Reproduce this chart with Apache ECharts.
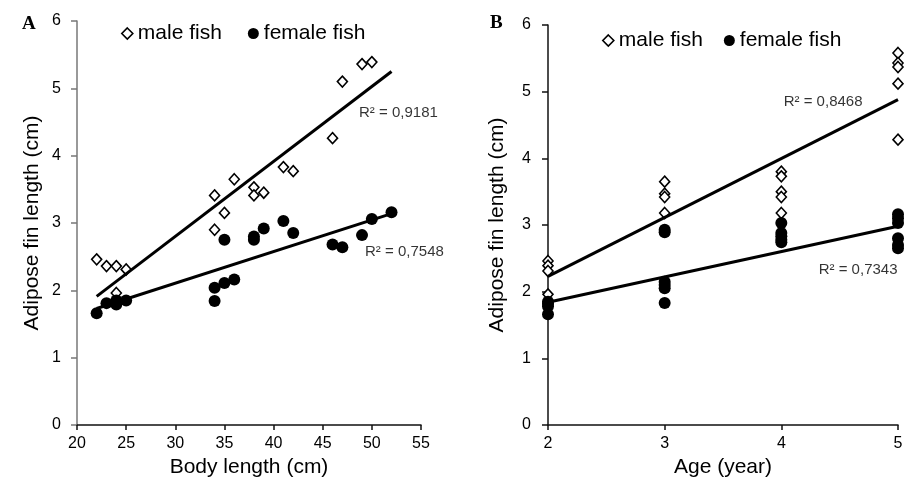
<!DOCTYPE html>
<html>
<head>
<meta charset="utf-8">
<script src="https://cdn.jsdelivr.net/npm/echarts@6/dist/echarts.min.js"></script>
<style>
  html, body { margin: 0; padding: 0; background: #fff; }
  #main { width: 915px; height: 488px; }
</style>
</head>
<body>
<div id="main"></div>
<script>
// 数据：A 图（体长）
var maleLenA = [22, 23, 24, 25, 24, 34, 35, 34, 36, 38, 38, 39, 41, 42, 46, 47, 49, 50];
var maleFinA = [2.46, 2.36, 2.36, 2.31, 1.96, 2.90, 3.15, 3.41, 3.65, 3.53, 3.41, 3.45, 3.83, 3.77, 4.26, 5.10, 5.36, 5.39];
var femaleLenA = [22, 23, 24, 24, 25, 34, 34, 35, 36, 35, 38, 38, 39, 41, 42, 46, 47, 49, 50, 52];
var femaleFinA = [1.66, 1.81, 1.79, 1.85, 1.85, 1.84, 2.04, 2.11, 2.16, 2.75, 2.80, 2.75, 2.92, 3.03, 2.85, 2.68, 2.64, 2.82, 3.06, 3.16];

// 数据：B 图（年龄）
var maleAgeB = [2, 2, 2, 2, 3, 3, 3, 3, 4, 4, 4, 4, 4, 5, 5, 5, 5, 5];
var maleFinB = [2.46, 2.39, 2.31, 1.96, 3.65, 3.47, 3.42, 3.18, 3.80, 3.73, 3.50, 3.42, 3.18, 5.58, 5.43, 5.37, 5.12, 4.28];
var femaleAgeB = [2, 2, 2, 2, 3, 3, 3, 3, 3, 3, 4, 4, 4, 4, 4, 5, 5, 5, 5, 5, 5];
var femaleFinB = [1.85, 1.82, 1.78, 1.66, 2.93, 2.89, 2.15, 2.10, 2.05, 1.83, 3.03, 2.88, 2.83, 2.78, 2.74, 3.16, 3.10, 3.03, 2.80, 2.70, 2.65];

// 趋势线端点
var maleTrendA = [[22, 1.91], [52, 5.25]];
var femaleTrendA = [[22, 1.73], [52, 3.14]];
var maleTrendB = [[2, 2.23], [5, 4.88]];
var femaleTrendB = [[2, 1.84], [5, 2.98]];

// R² 文本
var r2Text = ['R² = 0,9181', 'R² = 0,7548', 'R² = 0,8468', 'R² = 0,7343'];

// 刻度
var lenTicks = [20, 55, 5];
var ageTicks = [2, 5, 1];
var finTicks = [0, 6, 1];

function pairs(xs, ys) {
    return xs.map(function (x, i) { return [x, ys[i]]; });
}

var font = 'Liberation Sans, Arial, sans-serif';

var myChart = echarts.init(document.getElementById('main'));

// 空心菱形 / 实心圆
var maleStyle = { color: '#fff', borderColor: '#000', borderWidth: 1.6, opacity: 1 };
var femaleStyle = { color: '#000', opacity: 1 };

function scatter(name, idx, data, isMale) {
    return {
        name: name,
        type: 'scatter',
        xAxisIndex: idx,
        yAxisIndex: idx,
        symbol: isMale ? 'diamond' : 'circle',
        symbolSize: isMale ? [10, 11] : 12,
        itemStyle: isMale ? maleStyle : femaleStyle,
        data: data,
        z: isMale ? 3 : 4
    };
}

function trend(idx, data) {
    return {
        type: 'line',
        xAxisIndex: idx,
        yAxisIndex: idx,
        symbol: 'none',
        lineStyle: { color: '#000', width: 3 },
        data: data,
        silent: true,
        z: 5
    };
}

// R² 标签挂在趋势线末端
function r2(idx, point, text, pos, offset) {
    return {
        type: 'scatter',
        xAxisIndex: idx,
        yAxisIndex: idx,
        symbolSize: 1,
        itemStyle: { color: 'transparent' },
        data: [point],
        label: {
            show: true,
            formatter: text,
            position: pos,
            distance: 0,
            offset: offset,
            color: '#000',
            fontSize: 15,
            fontFamily: font
        },
        silent: true
    };
}

function yAxis(idx, gridIdx, lineColor, gap, margin) {
    return {
        type: 'value',
        gridIndex: gridIdx,
        min: finTicks[0],
        max: finTicks[1],
        interval: finTicks[2],
        name: 'Adipose fin length (cm)',
        nameLocation: 'middle',
        nameGap: gap,
        nameTextStyle: { fontSize: 21, color: '#000', fontFamily: font },
        axisLine: { show: true, lineStyle: { color: lineColor, width: 1.5 } },
        axisTick: { show: true, length: 6, lineStyle: { color: lineColor, width: 1.5 } },
        axisLabel: { fontSize: 16, color: '#000', margin: margin, fontFamily: font },
        splitLine: { show: false }
    };
}

function xAxis(gridIdx, ticks, name) {
    return {
        type: 'value',
        gridIndex: gridIdx,
        min: ticks[0],
        max: ticks[1],
        interval: ticks[2],
        name: name,
        nameLocation: 'middle',
        nameGap: 27,
        nameTextStyle: { fontSize: 21, color: '#000', fontFamily: font },
        axisLine: { show: true, lineStyle: { color: '#111', width: 1.5 } },
        axisTick: { show: true, length: 5, lineStyle: { color: '#111', width: 1.5 } },
        axisLabel: { fontSize: 16, color: '#000', margin: 11, fontFamily: font },
        splitLine: { show: false }
    };
}

function legend(left, top, gap) {
    return {
        left: left,
        top: top,
        padding: 0,
        itemGap: gap,
        itemWidth: 11,
        itemHeight: 11,
        textStyle: { fontSize: 21, color: '#000', fontFamily: font },
        data: [
            { name: 'male fish', icon: 'diamond', itemStyle: maleStyle },
            { name: 'female fish', icon: 'circle', itemStyle: femaleStyle }
        ],
        selectedMode: false
    };
}

var option = {
    backgroundColor: '#fff',
    animation: false,
    title: [
        { text: 'A', left: 17, top: 10, textStyle: { fontSize: 19, fontWeight: 'bold', fontFamily: 'Liberation Serif, Times New Roman, serif', color: '#000' } },
        { text: 'B', left: 485, top: 9, textStyle: { fontSize: 19, fontWeight: 'bold', fontFamily: 'Liberation Serif, Times New Roman, serif', color: '#000' } }
    ],
    legend: [legend(121, 23, 26), legend(602, 30, 21)],
    grid: [
        { left: 77, top: 21, width: 344, height: 404 },
        { left: 548, top: 25, width: 350, height: 400 }
    ],
    xAxis: [
        xAxis(0, lenTicks, 'Body length (cm)'),
        xAxis(1, ageTicks, 'Age (year)')
    ],
    yAxis: [
        yAxis(0, 0, '#777', 34, 16),
        yAxis(1, 1, '#111', 40, 17)
    ],
    series: [
        scatter('male fish', 0, pairs(maleLenA, maleFinA), true),
        scatter('female fish', 0, pairs(femaleLenA, femaleFinA), false),
        trend(0, maleTrendA),
        trend(0, femaleTrendA),
        r2(0, maleTrendA[1], r2Text[0], 'right', [-33, 41]),
        r2(0, femaleTrendA[1], r2Text[1], 'right', [-27, 38]),

        scatter('male fish', 1, pairs(maleAgeB, maleFinB), true),
        scatter('female fish', 1, pairs(femaleAgeB, femaleFinB), false),
        trend(1, maleTrendB),
        trend(1, femaleTrendB),
        r2(1, maleTrendB[1], r2Text[2], 'left', [-35, 2]),
        r2(1, femaleTrendB[1], r2Text[3], 'left', [0, 44])
    ]
};

myChart.setOption(option);
</script>
</body>
</html>
